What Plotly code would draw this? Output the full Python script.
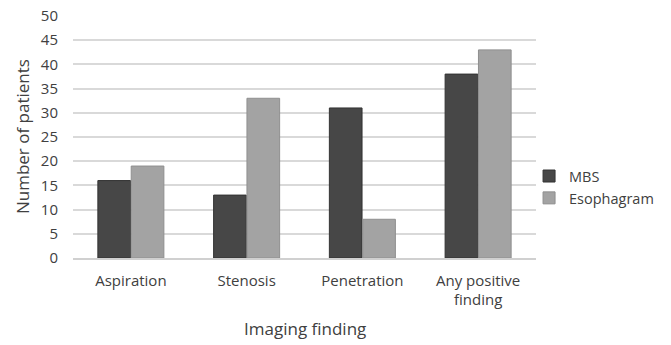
import plotly.graph_objects as go

categories = ["Aspiration", "Stenosis", "Penetration", "Any positive<br>finding"]
mbs = [16, 13, 31, 38]
esophagram = [19, 33, 8, 43]
y_ticks = [0, 5, 10, 15, 20, 25, 30, 35, 40, 45, 50]

font_fam = "Open Sans, Noto Sans, sans-serif"
txt = "#404040"

fig = go.Figure()
fig.add_trace(go.Bar(x=categories, y=mbs, name="MBS",
                     marker=dict(color="#474747", line=dict(color="#333333", width=1))))
fig.add_trace(go.Bar(x=categories, y=esophagram, name="Esophagram",
                     marker=dict(color="#a3a3a3", line=dict(color="#8f8f8f", width=1))))

fig.update_layout(
    width=671, height=345,
    margin=dict(l=73, r=133, t=16, b=87),
    paper_bgcolor="white", plot_bgcolor="white",
    barmode="group", bargap=0.424, bargroupgap=0.02,
    font=dict(family=font_fam, color=txt, size=15),
    legend=dict(x=0.985, y=0.293, xanchor="left", yanchor="middle",
                font=dict(size=14.5, color=txt), tracegroupgap=0,
                itemwidth=30, bgcolor="rgba(0,0,0,0)", borderwidth=0),
    showlegend=True,
    annotations=[
        dict(text="Number of patients", xref="paper", yref="paper",
             x=-0.110, y=0.5, xanchor="center", yanchor="middle",
             textangle=-90, showarrow=False, font=dict(size=17, color=txt)),
        dict(text="Imaging finding", xref="paper", yref="paper",
             x=0.5, y=-0.29, xanchor="center", yanchor="middle",
             showarrow=False, font=dict(size=17, color=txt)),
    ],
)
fig.update_yaxes(range=[0, 50], tickvals=y_ticks, showgrid=True,
                 gridcolor="#d9d9d9", gridwidth=1.5, zeroline=False,
                 showline=False, ticks="", ticklabelstandoff=14,
                 automargin=False, tickfont=dict(size=15))
fig.update_xaxes(showline=True, linecolor="#d0d0d0", linewidth=1.5, ticks="",
                 tickfont=dict(size=15), ticklabelstandoff=8, automargin=False)

fig.write_html("out.html", config={"displayModeBar": False},
               post_script="document.body.style.margin='0';document.body.style.overflow='hidden';")
